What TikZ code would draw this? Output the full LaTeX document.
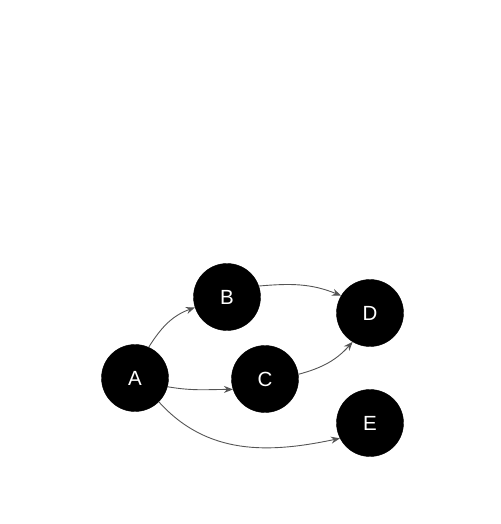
\documentclass[tikz,border=0pt]{standalone}
\usepackage{fontspec}
\setmainfont{Liberation Sans}
\usetikzlibrary{arrows.meta}
\definecolor{edgegray}{HTML}{555555}
\begin{document}
\begin{tikzpicture}[x=1pt,y=-1pt,
  vertex/.style={circle,fill=black,draw=black,minimum size=67pt,inner sep=0pt,text=white,font=\fontsize{20.5}{24}\selectfont},
  edge/.style={draw=edgegray,line width=0.9pt,-{Stealth[length=9pt,width=7pt]}}]
\useasboundingbox (0,0) rectangle (500,524);
\node[vertex] (A) at (135,378) {A};
\node[vertex] (B) at (227,297) {B};
\node[vertex] (C) at (265,379) {C};
\node[vertex] (D) at (370,313) {D};
\node[vertex] (E) at (370,423) {E};
\draw[edge] (A.66) to[out=58,in=200] (B.198);
\draw[edge] (B.19) to[out=5,in=158] (D.149);
\draw[edge] (A.-15) to[out=-10,in=180] (C.198);
\draw[edge] (C.8) to[out=15,in=228] (D.239);
\draw[edge] (A.-45) to[out=-48,in=192] (E.207);
\end{tikzpicture}
\end{document}
